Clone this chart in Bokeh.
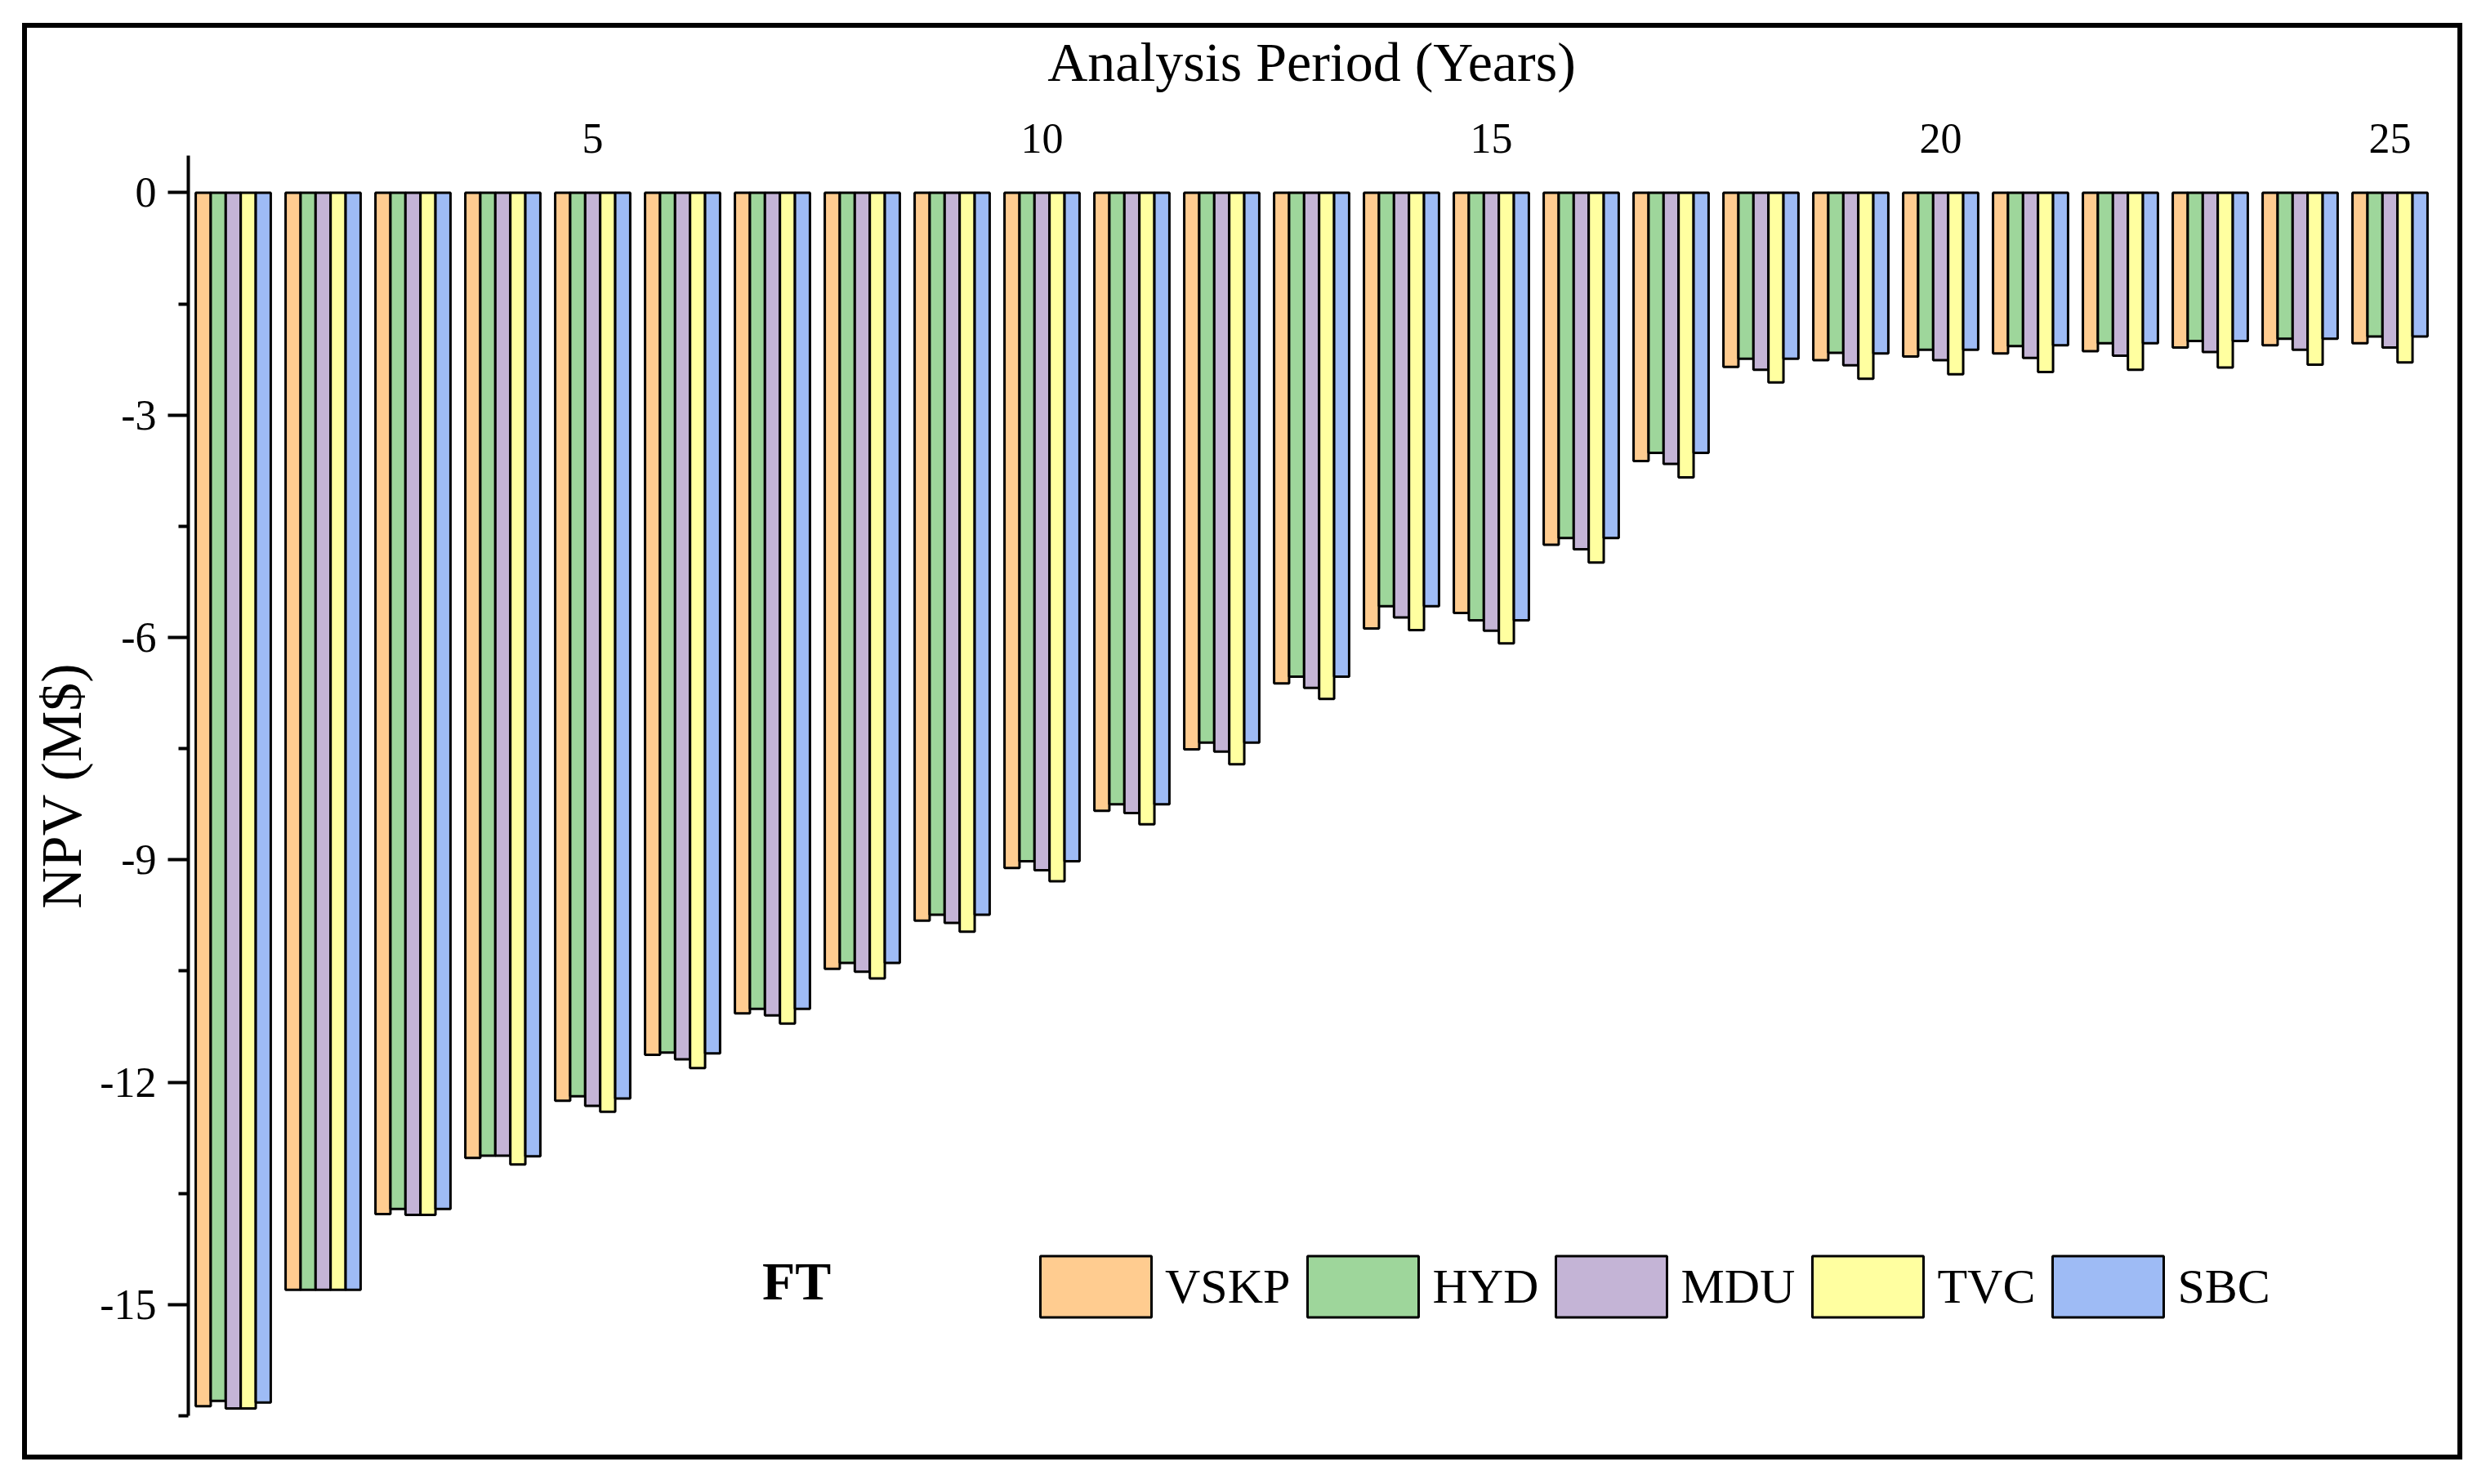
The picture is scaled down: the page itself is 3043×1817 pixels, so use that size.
from bokeh.plotting import figure
from bokeh.models import (ColumnDataSource, FixedTicker, Legend, LegendItem,
                          Range1d, Label, CustomJSTickFormatter)
from bokeh.transform import dodge
from bokeh.embed import file_html
from bokeh.resources import INLINE

# ---------------- data ----------------
years = list(range(1, 26))
VSKP = [-16.37, -14.80, -13.78, -13.02, -12.25, -11.63, -11.07, -10.47, -9.82, -9.11,
        -8.34, -7.51, -6.62, -5.88, -5.67, -4.75, -3.62, -2.35, -2.26, -2.21,
        -2.17, -2.14, -2.09, -2.06, -2.03]
HYD = [-16.30, -14.80, -13.71, -12.99, -12.19, -11.60, -11.01, -10.39, -9.74, -9.02,
       -8.25, -7.42, -6.53, -5.58, -5.77, -4.66, -3.51, -2.24, -2.16, -2.12,
       -2.07, -2.03, -2.00, -1.97, -1.94]
MDU = [-16.40, -14.80, -13.79, -12.99, -12.32, -11.69, -11.10, -10.51, -9.85, -9.14,
       -8.37, -7.54, -6.68, -5.73, -5.91, -4.81, -3.66, -2.39, -2.33, -2.26,
       -2.23, -2.20, -2.15, -2.12, -2.09]
TVC = [-16.40, -14.80, -13.79, -13.11, -12.40, -11.81, -11.21, -10.60, -9.97, -9.29,
       -8.52, -7.71, -6.83, -5.90, -6.08, -4.99, -3.84, -2.56, -2.51, -2.45,
       -2.42, -2.39, -2.36, -2.32, -2.29]
SBC = [-16.32, -14.80, -13.71, -13.00, -12.22, -11.61, -11.01, -10.39, -9.74, -9.02,
       -8.25, -7.42, -6.53, -5.58, -5.77, -4.66, -3.51, -2.24, -2.17, -2.12,
       -2.06, -2.03, -2.00, -1.97, -1.94]
series_names = ["VSKP", "HYD", "MDU", "TVC", "SBC"]
series_colors = ["#FFCC90", "#9ED69B", "#C4B4D6", "#FFFFA0", "#9EBBF5"]
x_ticks = [5, 10, 15, 20, 25]
y_ticks = [0, -3, -6, -9, -12, -15]
y_minor = [-1.5, -4.5, -7.5, -10.5, -13.5, -16.5]
legend_title = "FT"

FONT = "Liberation Serif"

src = ColumnDataSource(dict(year=years, VSKP=VSKP, HYD=HYD, MDU=MDU, TVC=TVC, SBC=SBC))

p = figure(width=2975, height=1747,
           x_range=Range1d(0.5, 25.5), y_range=Range1d(-16.5, 0.5),
           x_axis_location="above",
           output_backend="svg", toolbar_location=None,
           min_border_left=197, min_border_right=28,
           min_border_top=156, min_border_bottom=48)
p.margin = (34, 0, 0, 33)
p.styles = {"outline": "6px solid black"}
p.grid.visible = False
p.outline_line_color = None
p.background_fill_color = "white"
p.border_fill_color = "white"

bar_w = 0.167
offsets = [-2 * bar_w, -bar_w, 0.0, bar_w, 2 * bar_w]
renderers = []
for name, col, off in zip(series_names, series_colors, offsets):
    r = p.vbar(x=dodge("year", off), width=bar_w, top=0, bottom=name, source=src,
               fill_color=col, line_color="black", line_width=3)
    renderers.append(r)

# y axis
ya = p.yaxis[0]
ya.ticker = FixedTicker(ticks=y_ticks, minor_ticks=y_minor)
ya.formatter = CustomJSTickFormatter(code="return tick.toFixed(0);")
ya.axis_line_width = 4
ya.axis_line_color = "black"
ya.major_tick_line_width = 4
ya.minor_tick_line_width = 4
ya.major_tick_line_color = "black"
ya.minor_tick_line_color = "black"
ya.major_tick_out = 25
ya.major_tick_in = 0
ya.minor_tick_out = 12
ya.minor_tick_in = 0
ya.major_label_standoff = 14
ya.major_label_text_font = FONT
ya.major_label_text_font_size = "52px"
ya.major_label_text_color = "black"
ya.axis_label = "NPV (M$)"
ya.axis_label_text_font = FONT
ya.axis_label_text_font_style = "normal"
ya.axis_label_text_font_size = "70px"
ya.axis_label_text_color = "black"
ya.axis_label_standoff = 5

# top x axis
xa = p.xaxis[0]
xa.ticker = FixedTicker(ticks=x_ticks)
xa.axis_line_color = None
xa.major_tick_line_color = None
xa.minor_tick_line_color = None
xa.major_tick_out = 0
xa.major_tick_in = 0
xa.major_label_standoff = 4
xa.major_label_text_font = FONT
xa.major_label_text_font_size = "52px"
xa.major_label_text_color = "black"
xa.axis_label = "Analysis Period (Years)"
xa.axis_label_text_font = FONT
xa.axis_label_text_font_style = "normal"
xa.axis_label_text_font_size = "68px"
xa.axis_label_text_color = "black"
xa.axis_label_standoff = 35

legend = Legend(items=[LegendItem(label=n, renderers=[r]) for n, r in zip(series_names, renderers)],
                orientation="horizontal", location=(1026, 111),
                glyph_width=170, glyph_height=94, label_height=94,
                label_standoff=0, spacing=4, padding=0, margin=0,
                border_line_color=None, background_fill_alpha=0,
                label_text_font=FONT, label_text_font_size="60px",
                label_text_color="black")
p.add_layout(legend, "center")

p.add_layout(Label(x=7.27, y=-14.68, text=legend_title, text_font=FONT, text_font_style="bold",
                   text_font_size="66px", text_align="center", text_baseline="middle",
                   text_color="black"))

open("out.html", "w").write(file_html(p, INLINE))
